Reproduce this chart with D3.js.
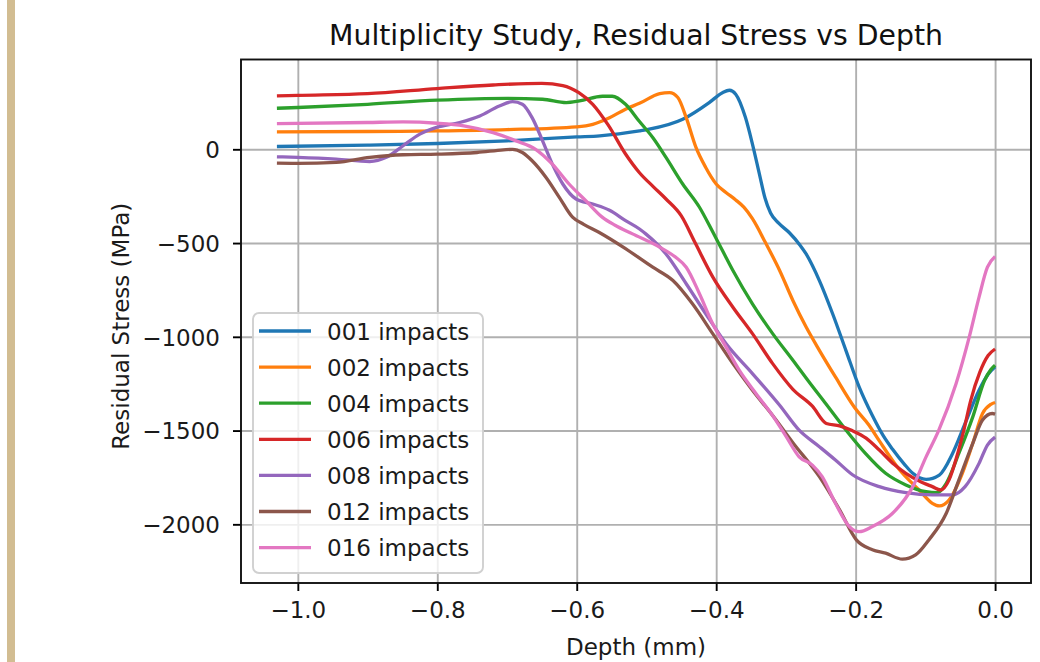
<!DOCTYPE html>
<html>
<head>
<meta charset="utf-8">
<script src="https://cdn.jsdelivr.net/npm/d3@7"></script>
<style>
  body { margin: 0; background: #fff; }
  svg { display: block; font-family: "DejaVu Sans", sans-serif; }
</style>
</head>
<body>
<div id="chart"></div>
<script>
// residual stress (MPa) vs depth (mm)
const impacts001 = [[-1.03,15],[-0.9,22],[-0.8,31],[-0.7,45],[-0.6,66],[-0.567,72],[-0.51,98],[-0.496,107],[-0.448,160],[-0.41,249],[-0.391,302],[-0.381,315],[-0.372,294],[-0.358,169],[-0.348,28],[-0.338,-132],[-0.33,-260],[-0.322,-340],[-0.31,-395],[-0.295,-445],[-0.28,-510],[-0.271,-558],[-0.252,-700],[-0.233,-877],[-0.214,-1072],[-0.195,-1267],[-0.176,-1420],[-0.16,-1530],[-0.147,-1600],[-0.13,-1680],[-0.118,-1728],[-0.099,-1760],[-0.08,-1737],[-0.061,-1622],[-0.043,-1462],[-0.023,-1285],[-0.01,-1200],[0,-1160]];
const impacts002 = [[-1.03,93],[-0.9,95],[-0.8,98],[-0.7,105],[-0.6,120],[-0.577,133],[-0.553,168],[-0.53,214],[-0.51,245],[-0.481,297],[-0.467,302],[-0.455,276],[-0.443,169],[-0.429,10],[-0.415,-97],[-0.4,-185],[-0.386,-230],[-0.372,-270],[-0.36,-310],[-0.348,-370],[-0.329,-500],[-0.309,-646],[-0.29,-806],[-0.271,-948],[-0.252,-1072],[-0.229,-1214],[-0.201,-1380],[-0.181,-1470],[-0.166,-1555],[-0.138,-1705],[-0.109,-1817],[-0.09,-1888],[-0.08,-1902],[-0.066,-1870],[-0.047,-1728],[-0.032,-1568],[-0.018,-1409],[-0.006,-1360],[0,-1350]];
const impacts004 = [[-1.03,219],[-1.0,223],[-0.9,240],[-0.8,262],[-0.7,272],[-0.649,267],[-0.615,249],[-0.596,258],[-0.563,283],[-0.549,283],[-0.53,240],[-0.51,148],[-0.491,63],[-0.472,-43],[-0.448,-185],[-0.424,-309],[-0.405,-440],[-0.391,-540],[-0.376,-646],[-0.348,-824],[-0.319,-983],[-0.29,-1125],[-0.267,-1240],[-0.243,-1356],[-0.214,-1497],[-0.186,-1622],[-0.157,-1728],[-0.128,-1790],[-0.099,-1826],[-0.083,-1831],[-0.07,-1781],[-0.052,-1622],[-0.032,-1427],[-0.015,-1232],[-0.006,-1175],[0,-1152]];
const impacts006 = [[-1.03,285],[-1.0,288],[-0.9,297],[-0.8,324],[-0.72,343],[-0.65,352],[-0.62,340],[-0.597,302],[-0.577,240],[-0.555,130],[-0.53,-25],[-0.51,-125],[-0.49,-200],[-0.472,-265],[-0.45,-355],[-0.43,-500],[-0.405,-680],[-0.376,-842],[-0.348,-983],[-0.319,-1143],[-0.29,-1280],[-0.262,-1370],[-0.242,-1462],[-0.223,-1475],[-0.205,-1500],[-0.185,-1540],[-0.166,-1604],[-0.145,-1680],[-0.128,-1728],[-0.108,-1770],[-0.09,-1799],[-0.078,-1817],[-0.066,-1763],[-0.055,-1640],[-0.045,-1500],[-0.035,-1340],[-0.022,-1190],[-0.01,-1100],[0,-1065]];
const impacts008 = [[-1.03,-40],[-1.0,-43],[-0.945,-52],[-0.897,-65],[-0.873,-43],[-0.849,19],[-0.825,81],[-0.801,117],[-0.768,143],[-0.739,178],[-0.711,231],[-0.692,254],[-0.678,240],[-0.664,169],[-0.649,45],[-0.635,-79],[-0.62,-185],[-0.601,-265],[-0.577,-292],[-0.553,-325],[-0.53,-380],[-0.51,-425],[-0.501,-451],[-0.472,-558],[-0.443,-717],[-0.415,-877],[-0.386,-1036],[-0.348,-1196],[-0.309,-1365],[-0.281,-1498],[-0.252,-1586],[-0.229,-1657],[-0.204,-1737],[-0.166,-1799],[-0.128,-1831],[-0.09,-1843],[-0.061,-1843],[-0.043,-1799],[-0.023,-1675],[-0.011,-1577],[0,-1535]];
const impacts012 = [[-1.03,-74],[-1.0,-75],[-0.945,-70],[-0.897,-43],[-0.849,-29],[-0.8,-26],[-0.743,-17],[-0.705,-3],[-0.692,0],[-0.678,-17],[-0.664,-61],[-0.644,-150],[-0.625,-256],[-0.606,-362],[-0.59,-400],[-0.567,-445],[-0.53,-530],[-0.491,-629],[-0.462,-700],[-0.434,-824],[-0.405,-983],[-0.376,-1143],[-0.348,-1285],[-0.319,-1420],[-0.29,-1565],[-0.252,-1746],[-0.223,-1923],[-0.199,-2083],[-0.176,-2136],[-0.157,-2154],[-0.133,-2186],[-0.114,-2163],[-0.095,-2083],[-0.07,-1941],[-0.052,-1764],[-0.032,-1568],[-0.018,-1444],[-0.004,-1409],[0,-1412]];
const impacts016 = [[-1.03,137],[-0.9,143],[-0.849,146],[-0.8,139],[-0.762,125],[-0.72,89],[-0.687,45],[-0.659,0],[-0.635,-79],[-0.611,-185],[-0.587,-274],[-0.563,-363],[-0.545,-405],[-0.52,-451],[-0.481,-522],[-0.458,-576],[-0.443,-629],[-0.424,-770],[-0.405,-930],[-0.386,-1054],[-0.367,-1178],[-0.343,-1302],[-0.319,-1420],[-0.3,-1530],[-0.281,-1640],[-0.262,-1684],[-0.248,-1746],[-0.229,-1888],[-0.209,-2012],[-0.195,-2039],[-0.176,-2012],[-0.147,-1941],[-0.118,-1799],[-0.099,-1640],[-0.081,-1500],[-0.056,-1250],[-0.037,-1000],[-0.023,-788],[-0.011,-629],[0,-572]];

const seriesNames = ['001 impacts','002 impacts','004 impacts','006 impacts','008 impacts','012 impacts','016 impacts'];
const seriesData = [impacts001, impacts002, impacts004, impacts006, impacts008, impacts012, impacts016];
const seriesColors = ['#1f77b4','#ff7f0e','#2ca02c','#d62728','#9467bd','#8c564b','#e377c2'];
const depthTicks = [-1.0, -0.8, -0.6, -0.4, -0.2, 0.0];
const stressTicks = [0, -500, -1000, -1500, -2000];

const W = 1040, H = 662;
const pLeft = 241, pRight = 1031, pTop = 59.5, pBottom = 583;

const svg = d3.select('#chart').append('svg').attr('width', W).attr('height', H);

// tan strip on the left edge of the page
svg.append('rect').attr('x', 7).attr('y', 0).attr('width', 8).attr('height', H).attr('fill', '#d2bd92');

// matplotlib style 5% margins
const allPts = seriesData.flat();
const xExt = d3.extent(allPts, d => d[0]);
const yExt = d3.extent(allPts, d => d[1]);
const xPad = (xExt[1] - xExt[0]) * 0.05, yPad = (yExt[1] - yExt[0]) * 0.05;

const x = d3.scaleLinear().domain([xExt[0] - xPad, xExt[1] + xPad]).range([pLeft, pRight]);
const y = d3.scaleLinear().domain([yExt[0] - yPad, yExt[1] + yPad]).range([pBottom, pTop]);

// grid
svg.append('g').attr('transform', 'translate(0,' + pBottom + ')')
    .call(d3.axisBottom(x).tickValues(depthTicks).tickSize(-(pBottom - pTop)).tickFormat(''))
    .call(g => g.select('.domain').remove())
    .selectAll('line').attr('stroke', '#b0b0b0').attr('stroke-width', 1.9);
svg.append('g').attr('transform', 'translate(' + pLeft + ',0)')
    .call(d3.axisLeft(y).tickValues(stressTicks).tickSize(-(pRight - pLeft)).tickFormat(''))
    .call(g => g.select('.domain').remove())
    .selectAll('line').attr('stroke', '#b0b0b0').attr('stroke-width', 1.9);

const line = d3.line()
    .x(d => x(d[0]))
    .y(d => y(d[1]))
    .curve(d3.curveMonotoneX);

svg.append('g').selectAll('path')
    .data(seriesData)
    .enter().append('path')
    .attr('fill', 'none')
    .attr('stroke', (d, i) => seriesColors[i])
    .attr('stroke-width', 3.3)
    .attr('stroke-linejoin', 'round')
    .attr('d', line);

// axes
const xAxis = svg.append('g').attr('transform', 'translate(0,' + pBottom + ')')
    .call(d3.axisBottom(x).tickValues(depthTicks).tickSize(8).tickPadding(9).tickSizeOuter(0).tickFormat(d3.format('.1f')));
const yAxis = svg.append('g').attr('transform', 'translate(' + pLeft + ',0)')
    .call(d3.axisLeft(y).tickValues(stressTicks).tickSize(8).tickPadding(13).tickSizeOuter(0).tickFormat(d3.format('d')));
[xAxis, yAxis].forEach(a => {
    a.select('.domain').remove();
    a.selectAll('line').attr('stroke', '#000').attr('stroke-width', 1.9);
    a.selectAll('text').attr('font-size', 23).attr('font-family', 'DejaVu Sans').attr('fill', '#1a1a1a');
});
xAxis.selectAll('text').attr('dy', null).attr('y', 35);
yAxis.selectAll('text').attr('dy', '0.36em');

// frame
svg.append('rect').attr('x', pLeft).attr('y', pTop).attr('width', pRight - pLeft).attr('height', pBottom - pTop)
    .attr('fill', 'none').attr('stroke', '#111').attr('stroke-width', 1.9);

// titles
svg.append('text').attr('x', (pLeft + pRight) / 2).attr('y', 45).attr('text-anchor', 'middle')
    .attr('font-size', 28.3).attr('fill', '#111').text('Multiplicity Study, Residual Stress vs Depth');
svg.append('text').attr('x', (pLeft + pRight) / 2).attr('y', 655).attr('text-anchor', 'middle')
    .attr('font-size', 23).attr('fill', '#1a1a1a').text('Depth (mm)');
svg.append('text').attr('transform', 'translate(129,' + ((pTop + pBottom) / 2 + 5) + ') rotate(-90)')
    .attr('text-anchor', 'middle').attr('font-size', 23).attr('fill', '#1a1a1a').text('Residual Stress (MPa)');

// legend
const lg = svg.append('g').attr('transform', 'translate(253,313)');
lg.append('rect').attr('width', 230).attr('height', 260).attr('rx', 6)
    .attr('fill', '#fff').attr('fill-opacity', 0.8).attr('stroke', '#d0d0d0').attr('stroke-width', 1.9);
const item = lg.selectAll('g.item').data(seriesNames).enter().append('g')
    .attr('class', 'item')
    .attr('transform', (d, i) => 'translate(0,' + (18 + i * 36.1) + ')');
item.append('line').attr('x1', 6).attr('x2', 58)
    .attr('stroke', (d, i) => seriesColors[i]).attr('stroke-width', 3.3);
item.append('text').attr('x', 74).attr('y', 8.5).attr('font-size', 23).attr('fill', '#1a1a1a').text(d => d);
</script>
</body>
</html>
